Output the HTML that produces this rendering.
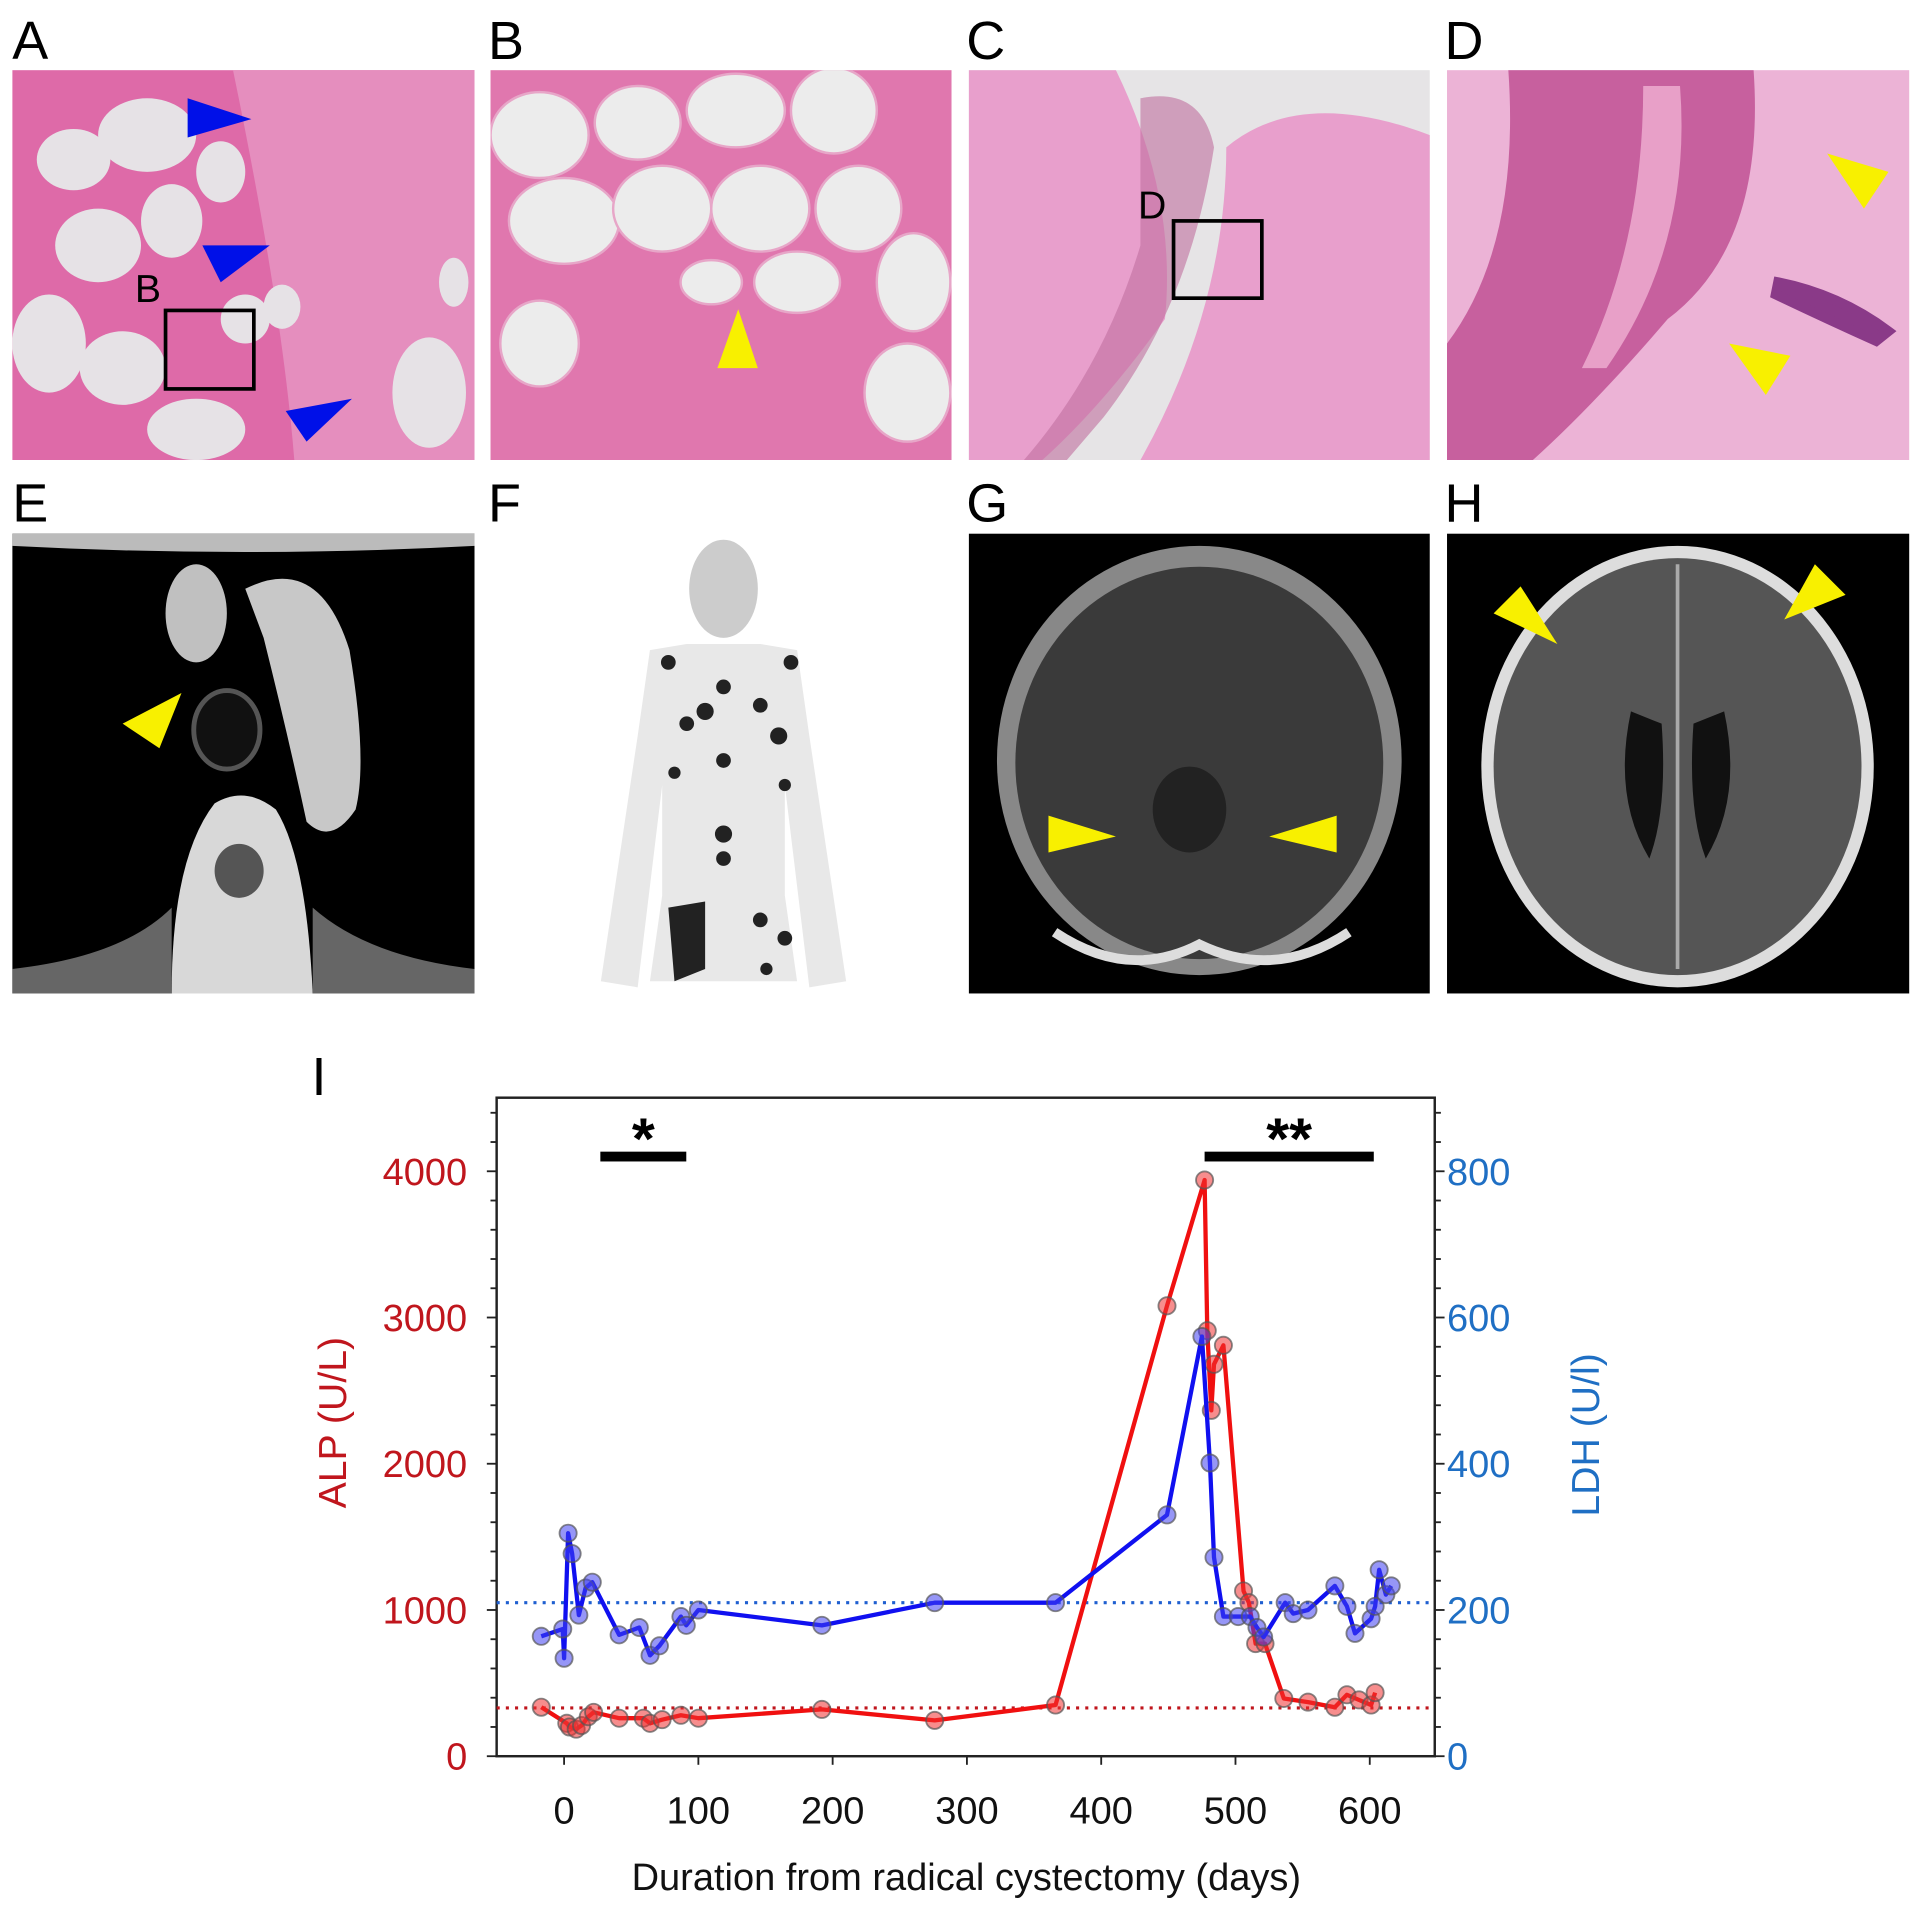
<!DOCTYPE html>
<html><head><meta charset="utf-8"><style>
html,body{margin:0;padding:0;background:#fff;}
svg{display:block;font-family:"Liberation Sans",Arial,sans-serif;}
</style></head><body>
<svg id="fig" width="1913" height="1906" viewBox="0 0 1560 1554" xmlns="http://www.w3.org/2000/svg">
<rect width="1560" height="1554" fill="#fff"/>
<defs>
<clipPath id="cA"><rect x="10" y="57" width="377" height="318"/></clipPath>
<clipPath id="cB"><rect x="400" y="57" width="376" height="318"/></clipPath>
<clipPath id="cC"><rect x="790" y="57" width="376" height="318"/></clipPath>
<clipPath id="cD"><rect x="1180" y="57" width="377" height="318"/></clipPath>
<clipPath id="cE"><rect x="10" y="435" width="377" height="375"/></clipPath>
<clipPath id="cG"><rect x="790" y="435" width="376" height="375"/></clipPath>
<clipPath id="cH"><rect x="1180" y="435" width="377" height="375"/></clipPath>
</defs>

<g font-size="44" fill="#000">
<text x="10" y="48">A</text><text x="398" y="48">B</text><text x="788" y="48">C</text><text x="1178" y="48">D</text>
<text x="10" y="425">E</text><text x="398" y="425">F</text><text x="788" y="425">G</text><text x="1178" y="425">H</text>
<text x="254" y="893">I</text>
</g>

<g clip-path="url(#cA)">
<rect x="10" y="57" width="377" height="318" fill="#de6aa8"/>
<path d="M190 57 L387 57 L387 375 L240 375 Q230 250 190 57Z" fill="#e58ebe"/>
<g fill="#e6e2e6">
<ellipse cx="60" cy="130" rx="30" ry="25"/><ellipse cx="120" cy="110" rx="40" ry="30"/><ellipse cx="80" cy="200" rx="35" ry="30"/>
<ellipse cx="40" cy="280" rx="30" ry="40"/><ellipse cx="100" cy="300" rx="35" ry="30"/><ellipse cx="160" cy="350" rx="40" ry="25"/>
<ellipse cx="140" cy="180" rx="25" ry="30"/><ellipse cx="180" cy="140" rx="20" ry="25"/><ellipse cx="200" cy="260" rx="20" ry="20"/>
<ellipse cx="350" cy="320" rx="30" ry="45"/><ellipse cx="370" cy="230" rx="12" ry="20"/><ellipse cx="230" cy="250" rx="15" ry="18"/>
</g>
<rect x="135" y="253" width="72" height="64" fill="none" stroke="#000" stroke-width="3"/>
<text x="110" y="246" font-size="32">B</text>
<polygon points="153,80 205,97 153,112" fill="#0010e8"/>
<polygon points="165,200 220,200 180,230" fill="#0010e8"/>
<polygon points="233,335 287,325 250,360" fill="#0010e8"/>
</g>

<g clip-path="url(#cB)">
<rect x="400" y="57" width="376" height="318" fill="#e077ae"/>
<g fill="#ececec" stroke="#e7a6c8" stroke-width="2">
<ellipse cx="440" cy="110" rx="40" ry="35"/><ellipse cx="520" cy="100" rx="35" ry="30"/><ellipse cx="600" cy="90" rx="40" ry="30"/>
<ellipse cx="680" cy="90" rx="35" ry="35"/><ellipse cx="460" cy="180" rx="45" ry="35"/><ellipse cx="540" cy="170" rx="40" ry="35"/>
<ellipse cx="620" cy="170" rx="40" ry="35"/><ellipse cx="700" cy="170" rx="35" ry="35"/><ellipse cx="650" cy="230" rx="35" ry="25"/>
<ellipse cx="745" cy="230" rx="30" ry="40"/><ellipse cx="440" cy="280" rx="32" ry="35"/><ellipse cx="740" cy="320" rx="35" ry="40"/>
<ellipse cx="580" cy="230" rx="25" ry="18"/>
</g>
<polygon points="585,300 602,252 618,300" fill="#f8f000"/>
</g>

<g clip-path="url(#cC)">
<rect x="790" y="57" width="376" height="318" fill="#e6e4e6"/>
<path d="M790 57 L910 57 Q960 160 950 260 Q900 330 850 375 L790 375Z" fill="#e89fcc"/>
<path d="M1000 120 Q1060 70 1166 110 L1166 375 L930 375 Q1000 250 1000 120Z" fill="#e89fcc"/>
<path d="M930 80 Q980 70 990 120 Q970 250 900 340 L870 375 L835 375 Q900 300 930 200Z" fill="#c0709f" opacity="0.6"/>
<rect x="957" y="180" width="72" height="63" fill="none" stroke="#000" stroke-width="3"/>
<text x="928" y="178" font-size="32">D</text>
</g>

<g clip-path="url(#cD)">
<rect x="1180" y="57" width="377" height="318" fill="#ecb3d6"/>
<path d="M1230 57 L1430 57 Q1440 200 1360 260 Q1300 330 1250 375 L1180 375 L1180 280 Q1240 200 1230 57Z" fill="#c7609e"/>
<path d="M1340 70 L1370 70 Q1380 200 1310 300 L1290 300 Q1340 200 1340 70Z" fill="#e8a0c8"/>
<path d="M1450 230 Q1500 240 1540 270 L1530 278 Q1490 260 1448 240Z" fill="#8a3a88" stroke="#8a3a88" stroke-width="8"/>
<polygon points="1490,125 1540,140 1520,170" fill="#f8f000"/>
<polygon points="1410,280 1460,290 1440,322" fill="#f8f000"/>
</g>

<g clip-path="url(#cE)">
<rect x="10" y="435" width="377" height="375" fill="#000"/>
<path d="M10 435 L387 435 L387 445 Q200 455 10 445Z" fill="#bbb"/>
<path d="M200 480 Q260 450 285 530 Q300 620 290 660 Q270 690 250 670 Q235 600 215 520Z" fill="#c8c8c8"/>
<ellipse cx="160" cy="500" rx="25" ry="40" fill="#c0c0c0"/>
<ellipse cx="185" cy="595" rx="27" ry="32" fill="#111" stroke="#555" stroke-width="4"/>
<path d="M140 810 Q140 700 175 655 Q200 640 225 660 Q250 700 255 810Z" fill="#d8d8d8"/>
<ellipse cx="195" cy="710" rx="20" ry="22" fill="#555"/>
<path d="M10 790 Q100 780 140 740 L140 810 L10 810Z M387 790 Q300 780 255 740 L255 810 L387 810Z" fill="#666"/>
<polygon points="100,590 148,565 130,610" fill="#f8f000"/>
</g>

<g>
<ellipse cx="590" cy="480" rx="28" ry="40" fill="#ccc"/>
<path d="M560 525 L620 525 L650 530 L660 600 L690 800 L660 805 L640 640 L640 730 L650 800 L530 800 L540 730 L540 640 L520 805 L490 800 L520 600 L530 530Z" fill="#e8e8e8"/>
<g fill="#222">
<circle cx="545" cy="540" r="6"/><circle cx="645" cy="540" r="6"/><circle cx="590" cy="560" r="6"/><circle cx="575" cy="580" r="7"/>
<circle cx="560" cy="590" r="6"/><circle cx="620" cy="575" r="6"/><circle cx="635" cy="600" r="7"/><circle cx="590" cy="620" r="6"/>
<circle cx="590" cy="680" r="7"/><circle cx="590" cy="700" r="6"/><circle cx="550" cy="630" r="5"/><circle cx="640" cy="640" r="5"/>
<path d="M545 740 L575 735 L575 790 L550 800Z"/><circle cx="620" cy="750" r="6"/><circle cx="640" cy="765" r="6"/><circle cx="625" cy="790" r="5"/>
</g>
</g>

<g clip-path="url(#cG)">
<rect x="790" y="435" width="376" height="375" fill="#000"/>
<ellipse cx="978" cy="620" rx="165" ry="175" fill="#888"/>
<ellipse cx="978" cy="622" rx="150" ry="160" fill="#3a3a3a"/>
<path d="M860 760 Q920 800 978 770 Q1040 800 1100 760" stroke="#ddd" stroke-width="8" fill="none"/>
<ellipse cx="970" cy="660" rx="30" ry="35" fill="#222"/>
<polygon points="855,665 910,682 855,695" fill="#f8f000"/>
<polygon points="1090,665 1035,682 1090,695" fill="#f8f000"/>
</g>

<g clip-path="url(#cH)">
<rect x="1180" y="435" width="377" height="375" fill="#000"/>
<ellipse cx="1368" cy="625" rx="160" ry="180" fill="#ddd"/>
<ellipse cx="1368" cy="625" rx="150" ry="170" fill="#555"/>
<path d="M1330 580 Q1315 650 1345 700 Q1360 660 1355 590Z M1406 580 Q1421 650 1391 700 Q1376 660 1381 590Z" fill="#111"/>
<line x1="1368" y1="460" x2="1368" y2="790" stroke="#aaa" stroke-width="3"/>
<polygon points="1218,500 1240,478 1270,525" fill="#f8f000"/>
<polygon points="1505,485 1480,460 1455,505" fill="#f8f000"/>
</g>

<g id="chart"></g>
</svg>
<script>
const ALP_DAYS = [-17,2,4,9,13,18,22,41,59,64,73,87,100,192,276,366,449,477,479,482,484,491,506,510,515,522,536,554,574,583,592,601,604];
const ALP_VALUES = [335,225,200,185,210,270,300,260,260,225,250,280,260,320,245,350,3080,3940,2910,2365,2680,2810,1130,1050,770,770,395,370,335,420,385,350,435];
const LDH_DAYS = [-17,-1,0,3,6,11,16,21,41,56,64,71,87,91,100,192,276,366,449,475,481,484,491,502,511,516,521,537,543,554,574,583,589,601,604,607,612,616];
const LDH_VALUES = [164,174,134,305,277,193,230,238,166,176,138,151,191,179,200,179,210,210,330,574,401,272,191,191,191,176,163,210,195,200,233,205,168,188,205,255,221,233];
const ALP_REF = 330;
const LDH_REF = 210;
const X_TICKS = [0,100,200,300,400,500,600];
const ALP_TICKS = [0,1000,2000,3000,4000];
const LDH_TICKS = [0,200,400,600,800];
const BAR_RANGES = [[27,91,"*"],[477,603,"**"]];

const NS="http://www.w3.org/2000/svg";
const g=document.getElementById('chart');
const L=405,R=1170,T=895,B=1432;
const xs=d=>460+(d-0)*(1117-460)/600;
const ya=v=>B-v*(B-955)/4000;
const yl=v=>B-v*(B-955)/800;
function mk(tag,attrs,parent){const e=document.createElementNS(NS,tag);for(const k in attrs)e.setAttribute(k,attrs[k]);(parent||g).appendChild(e);return e;}

const frame=mk('rect',{x:L,y:T,width:R-L,height:B-T,fill:'none',stroke:'#222','stroke-width':2});



for(let v=0;v<=4400;v+=200){
  const y=ya(v); if(y<T)break;
  const len=(v%1000===0)?8:5;
  const t1=mk('line',{x1:L-len,x2:L,y1:y,y2:y,stroke:'#222','stroke-width':1.5});
  
  
  const t2=mk('line',{x1:R,x2:R+len,y1:y,y2:y,stroke:'#222','stroke-width':1.5});
  
  
}
ALP_TICKS.forEach(v=>{
  const t=mk('text',{x:381,y:ya(v)+11,'text-anchor':'end','font-size':31,fill:'#c0161d'});
  t.textContent=v;
  
  
});
LDH_TICKS.forEach(v=>{
  const t=mk('text',{x:1180,y:yl(v)+11,'font-size':31,fill:'#1f6fc4'});
  t.textContent=v;
  
  
});
X_TICKS.forEach(d=>{
  const tk=mk('line',{x1:xs(d),x2:xs(d),y1:B,y2:B+7,stroke:'#222','stroke-width':1.5});
  
  
  const t=mk('text',{x:xs(d),y:1487,'text-anchor':'middle','font-size':31,fill:'#111'});
  t.textContent=d;
  
  
});
const xt=mk('text',{x:788,y:1541,'text-anchor':'middle','font-size':31,fill:'#111'});
xt.textContent='Duration from radical cystectomy (days)';


const ay=mk('text',{transform:'translate(282,1160) rotate(-90)','text-anchor':'middle','font-size':32,fill:'#c0161d'});
ay.textContent='ALP (U/L)';


const ly=mk('text',{transform:'translate(1304,1170) rotate(-90)','text-anchor':'middle','font-size':32,fill:'#1f6fc4'});
ly.textContent='LDH (U/l)';



const r1=mk('line',{x1:L,x2:R,y1:ya(ALP_REF),y2:ya(ALP_REF),stroke:'#c0161d','stroke-width':2.5,'stroke-dasharray':'2.5 5'});


const r2=mk('line',{x1:L,x2:R,y1:yl(LDH_REF),y2:yl(LDH_REF),stroke:'#1f5fd0','stroke-width':2.5,'stroke-dasharray':'2.5 5'});



BAR_RANGES.forEach(b=>{
  const bar=mk('rect',{x:xs(b[0]),y:939,width:xs(b[1])-xs(b[0]),height:8,fill:'#000'});
  
  
  const s=mk('text',{x:(xs(b[0])+xs(b[1]))/2,y:945,'text-anchor':'middle','font-size':48,'font-weight':'bold',fill:'#000'});
  s.textContent=b[2];
  
  
});

function series(days,vals,yf,color,fill,name){
  const pts=days.map((d,i)=>xs(d)+','+yf(vals[i])).join(' ');
  const pl=mk('polyline',{points:pts,fill:'none',stroke:color,'stroke-width':3.5,'stroke-linejoin':'round'});
  
  
  days.forEach((d,i)=>{
    const c=mk('circle',{cx:xs(d),cy:yf(vals[i]),r:7,fill:fill,'fill-opacity':0.55,stroke:'#555','stroke-width':1.5,'stroke-opacity':0.7});
    
    
  });
}
series(ALP_DAYS,ALP_VALUES,ya,'#f01010','#f03030','alp');
series(LDH_DAYS,LDH_VALUES,yl,'#1010f0','#4040f0','ldh');
</script>
</body></html>
